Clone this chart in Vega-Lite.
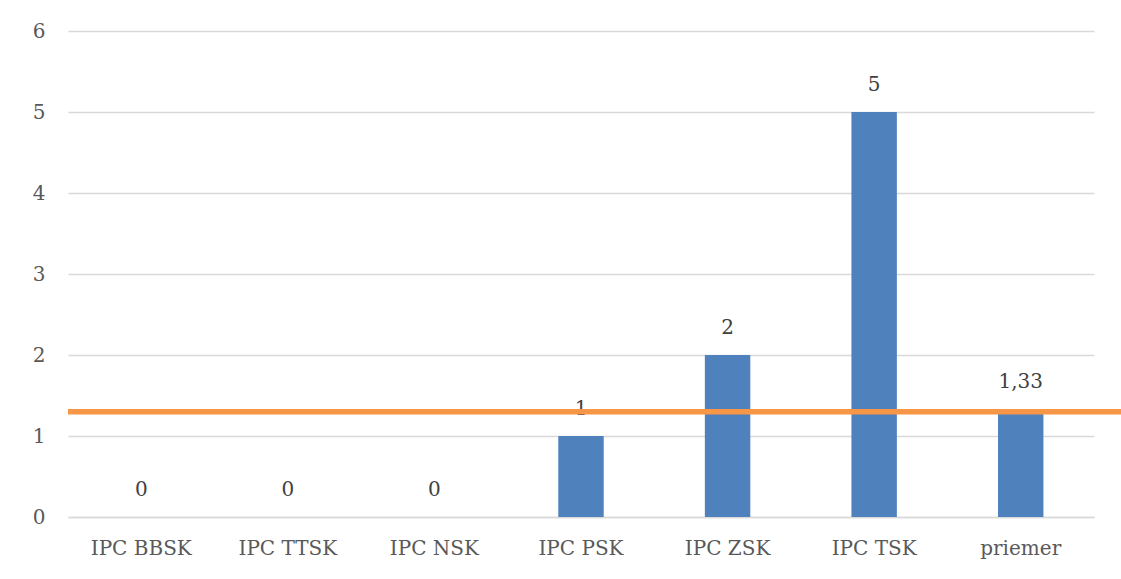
{
  "$schema": "https://vega.github.io/schema/vega-lite/v6.json",
  "width": 1026,
  "height": 486,
  "autosize": "none",
  "padding": {"left": 68, "top": 31, "right": 27, "bottom": 62},
  "background": "#ffffff",
  "config": {
    "view": {"stroke": null},
    "font": "DejaVu Serif"
  },
  "datasets": {
    "kraje": [
      {"kraj": "IPC BBSK", "pocet": 0, "popis": "0"},
      {"kraj": "IPC TTSK", "pocet": 0, "popis": "0"},
      {"kraj": "IPC NSK", "pocet": 0, "popis": "0"},
      {"kraj": "IPC PSK", "pocet": 1, "popis": "1"},
      {"kraj": "IPC ZSK", "pocet": 2, "popis": "2"},
      {"kraj": "IPC TSK", "pocet": 5, "popis": "5"},
      {"kraj": "priemer", "pocet": 1.33, "popis": "1,33"}
    ],
    "priemer": [{"hodnota": 1.3}]
  },
  "encoding": {
    "y": {
      "type": "quantitative",
      "scale": {"domain": [0, 6], "nice": false},
      "axis": {
        "title": null, "values": [0, 1, 2, 3, 4, 5, 6], "labelOverlap": false,
        "ticks": false, "domain": false,
        "gridColor": "#D9D9D9", "gridWidth": 1.5,
        "labelFontSize": 20, "labelColor": "#595959", "labelPadding": 23
      }
    }
  },
  "layer": [
    {
      "data": {"name": "kraje"},
      "mark": {"type": "bar", "color": "#4F81BD"},
      "encoding": {
        "x": {
          "field": "kraj", "type": "nominal", "sort": null,
          "scale": {"paddingInner": 0.69, "paddingOuter": 0.345},
          "axis": {
            "title": null, "labelAngle": 0, "ticks": false,
            "domainColor": "#D9D9D9", "domainWidth": 1.5,
            "labelFontSize": 20, "labelColor": "#595959", "labelPadding": 21
          }
        },
        "y": {"field": "pocet"}
      }
    },
    {
      "data": {"name": "kraje"},
      "mark": {"type": "text", "baseline": "bottom", "dy": -17, "fontSize": 20, "color": "#404040"},
      "encoding": {
        "x": {"field": "kraj", "type": "nominal", "sort": null},
        "y": {"field": "pocet"},
        "text": {"field": "popis"}
      }
    },
    {
      "data": {"name": "priemer"},
      "mark": {"type": "rule", "color": "#F79646", "strokeWidth": 5.5, "x": 0, "x2": {"expr": "width + 27"}},
      "encoding": {
        "y": {"field": "hodnota"}
      }
    }
  ]
}
